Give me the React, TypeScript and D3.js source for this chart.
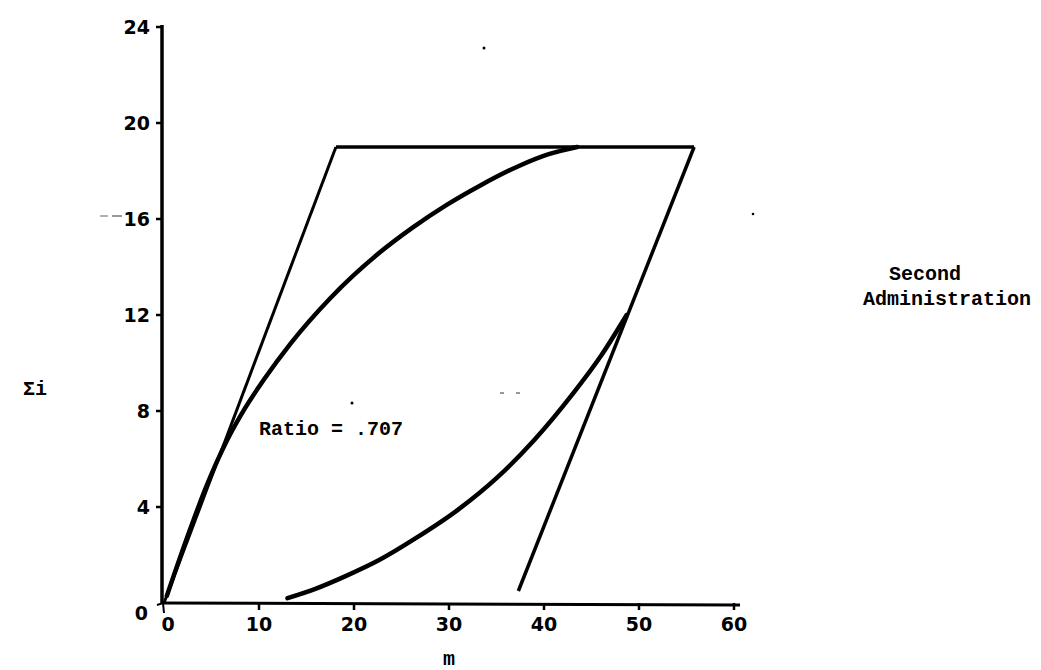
import React from "react";
import * as d3 from "d3";

// Axis ticks
const xTicks = [0, 10, 20, 30, 40, 50, 60];
const yTicks = [0, 4, 8, 12, 16, 20, 24];

// Bounding parallelogram (m, Σi)
const leftEdge: [number, number][] = [[0, 0], [18.1, 19]];
const topEdge: [number, number][] = [[18.1, 19], [55.8, 19]];
const rightEdge: [number, number][] = [[55.8, 19], [37.3, 0.5]];

// Upper (concave) curve
const upperCurve: [number, number][] = [
  [0.3, 0.3], [2.5, 2.8], [4.5, 4.9], [6.6, 6.75], [8.5, 8.1], [10.5, 9.3],
  [13.3, 10.8], [17.5, 12.7], [22.7, 14.6], [26.2, 15.65], [29.8, 16.6],
  [33.3, 17.4], [37.3, 18.2], [40.5, 18.7], [43.5, 19.0],
];

// Lower (convex) curve
const lowerCurve: [number, number][] = [
  [13.0, 0.2], [16.0, 0.6], [19.0, 1.1], [22.7, 1.8], [26.5, 2.7],
  [31.0, 3.9], [35.0, 5.2], [39.0, 6.8], [43.0, 8.7], [46.0, 10.3],
  [48.7, 12.0],
];

const ratioLabel = "Ratio = .707";
const sideLabel = ["Second", "Administration"];

export default function App() {
  const width = 1041;
  const height = 670;
  const x = d3.scaleLinear().domain([0, 60]).range([164, 734]);
  const y = d3.scaleLinear().domain([0, 24]).range([603, 27]);

  const line = d3.line<[number, number]>().x((d) => x(d[0])).y((d) => y(d[1]));
  const smooth = d3
    .line<[number, number]>()
    .x((d) => x(d[0]))
    .y((d) => y(d[1]))
    .curve(d3.curveMonotoneX);

  const tickFont = "'DejaVu Sans', sans-serif";
  const monoFont = "'Liberation Mono', 'DejaVu Sans Mono', monospace";
  const y0 = y(0);

  return (
    <svg
      width={width}
      height={height}
      style={{ position: "absolute", left: 0, top: 0, background: "#fff" }}
    >
      <rect x={0} y={0} width={width} height={height} fill="#fff" />

      {/* y axis */}
      <line x1={162} x2={162} y1={y(24) - 2} y2={y0} stroke="#000" strokeWidth={3.5} />
      <path d={`M157,${y0 + 2} L163,${y0} L164,${y0 + 10}`} fill="none" stroke="#000" strokeWidth={2} />
      {yTicks.filter((t) => t > 0).map((t) => (
        <g key={`y${t}`}>
          <line x1={156} x2={162} y1={y(t)} y2={y(t)} stroke="#000" strokeWidth={2.5} />
          <text
            x={150}
            y={y(t)}
            textAnchor="end"
            dominantBaseline="central"
            fontFamily={tickFont}
            fontWeight="bold"
            fontSize={19}
          >
            {t}
          </text>
        </g>
      ))}
      <text x={148} y={y0 + 10} textAnchor="end" dominantBaseline="central" fontFamily={tickFont} fontWeight="bold" fontSize={19}>
        0
      </text>

      {/* x axis */}
      <line x1={162} x2={x(60) + 6} y1={y0} y2={y0 + 2} stroke="#000" strokeWidth={3} />
      {xTicks.map((t) => (
        <g key={`x${t}`}>
          {t > 0 && (
            <line x1={x(t)} x2={x(t)} y1={y0} y2={y0 + 7} stroke="#000" strokeWidth={2.5} />
          )}
          <text
            x={t === 0 ? x(t) + 4 : x(t)}
            y={y0 + 28}
            textAnchor="middle"
            fontFamily={tickFont}
            fontWeight="bold"
            fontSize={19}
          >
            {t}
          </text>
        </g>
      ))}

      {/* axis titles */}
      <text x={x(30)} y={y0 + 62} textAnchor="middle" fontFamily={monoFont} fontWeight="bold" fontSize={20}>
        m
      </text>
      <text x={23} y={y(8) - 22} fontFamily={monoFont} fontWeight="bold" fontSize={20} dominantBaseline="central">
        Σi
      </text>

      {/* parallelogram */}
      <path d={line(leftEdge) ?? ""} fill="none" stroke="#000" strokeWidth={3} />
      <path d={line(topEdge) ?? ""} fill="none" stroke="#000" strokeWidth={3.5} />
      <path d={line(rightEdge) ?? ""} fill="none" stroke="#000" strokeWidth={3.5} />

      {/* curves */}
      <path d={smooth(upperCurve) ?? ""} fill="none" stroke="#000" strokeWidth={4.5} strokeLinecap="round" />
      <path d={smooth(lowerCurve) ?? ""} fill="none" stroke="#000" strokeWidth={4.5} strokeLinecap="round" />

      {/* labels */}
      <text x={x(10)} y={y(7)} fontFamily={monoFont} fontWeight="bold" fontSize={20}>
        {ratioLabel}
      </text>
      <text x={925} y={280} textAnchor="middle" fontFamily={monoFont} fontWeight="bold" fontSize={20}>
        {sideLabel[0]}
      </text>
      <text x={947} y={305} textAnchor="middle" fontFamily={monoFont} fontWeight="bold" fontSize={20}>
        {sideLabel[1]}
      </text>

      {/* specks */}
      <line x1={100} x2={108} y1={216} y2={216} stroke="#999" strokeWidth={1.5} />
      <line x1={112} x2={122} y1={216} y2={216} stroke="#777" strokeWidth={1.5} />
      <circle cx={484} cy={48} r={1.5} fill="#000" />
      <circle cx={753} cy={214} r={1.3} fill="#000" />
      <circle cx={352} cy={403} r={1.5} fill="#000" />
      <line x1={500} x2={504} y1={393} y2={393} stroke="#555" strokeWidth={1.2} />
      <line x1={516} x2={520} y1={393} y2={393} stroke="#555" strokeWidth={1.2} />
    </svg>
  );
}
